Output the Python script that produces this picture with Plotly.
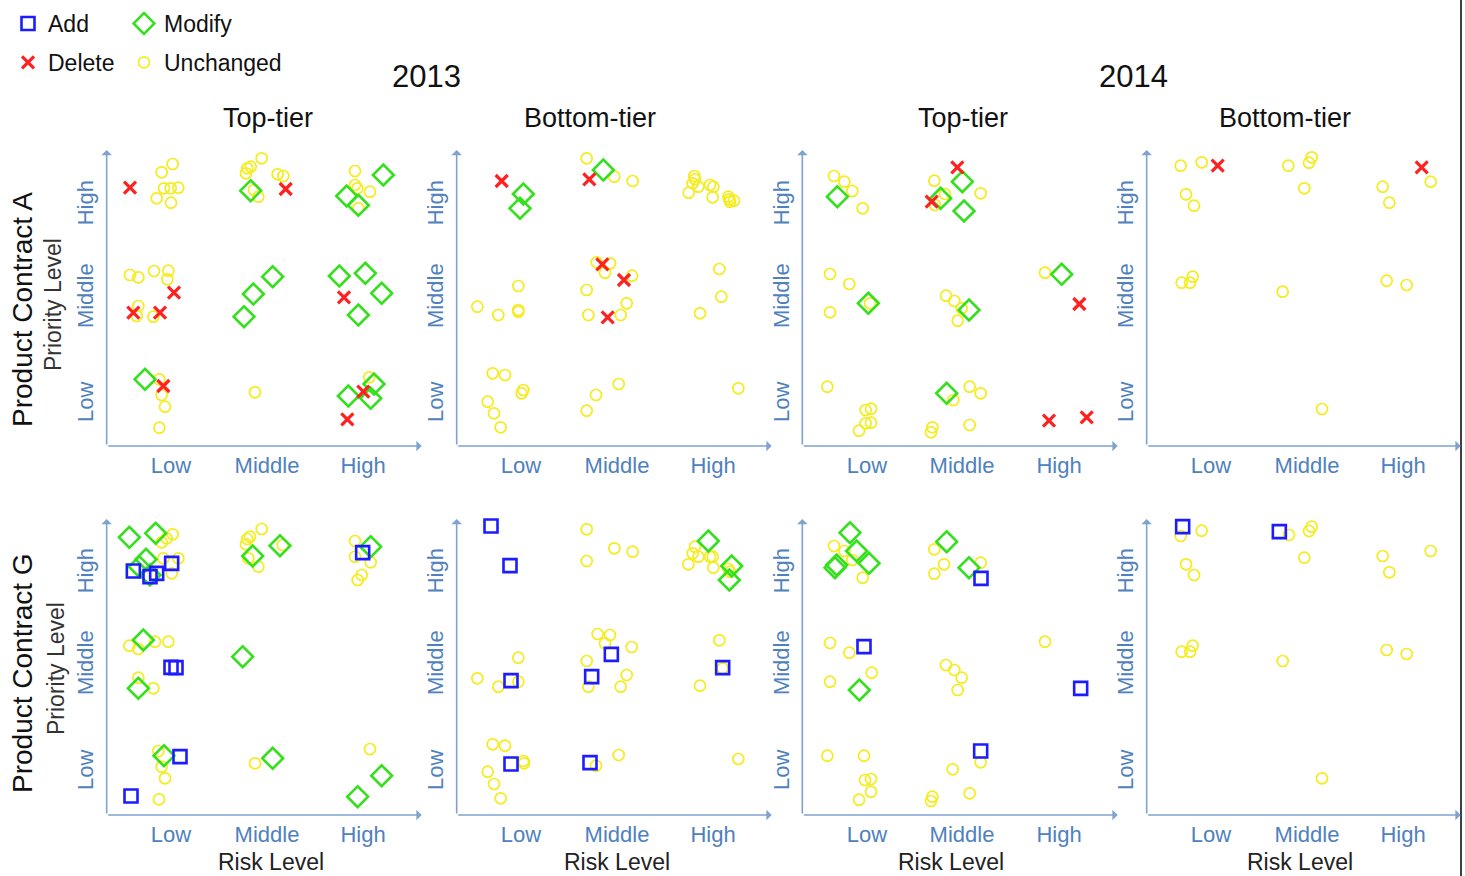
import plotly.graph_objects as go

W, H = 1465, 876

# ---------------- categories / labels ----------------
years = ["2013", "2014"]
tiers = ["Top-tier", "Bottom-tier"]
contracts = ["Product Contract A", "Product Contract G"]
level_labels = ["Low", "Middle", "High"]
change_types = ["Add", "Modify", "Delete", "Unchanged"]

# tick positions on the (risk score, priority score) scales
risk_ticks = [213, 501, 789]
risk_ticks_c3 = [216, 501, 792]
prio_ticks_A = [205, 523, 802]
prio_ticks_G = [196, 517, 793]

# ---------------- data: (risk score, priority score) ----------------
# Product Contract A, 2013, Top-tier
A13T_add = []
A13T_modify = [(452, 848), (850, 895), (740, 832), (775, 804), (518, 590), (460, 538), (432, 470),
               (718, 592), (796, 600), (845, 540), (775, 475), (135, 282), (745, 232), (812, 225), (822, 268)]
A13T_delete = [(90, 857), (557, 853), (222, 542), (100, 482), (180, 482), (190, 262), (732, 528),
               (790, 245), (742, 162)]
A13T_unch = [(218, 928), (185, 903), (192, 855), (212, 855), (235, 857), (170, 825), (213, 812),
             (485, 945), (442, 915), (452, 920), (438, 900), (533, 897), (550, 892), (475, 830), (462, 850),
             (765, 907), (765, 865), (772, 855), (810, 845), (775, 795),
             (90, 595), (115, 588), (162, 607), (205, 608), (202, 582), (115, 502), (110, 472), (160, 470),
             (178, 282), (185, 235), (195, 200), (178, 137), (465, 243), (808, 288)]

# Product Contract A, 2013, Bottom-tier
A13B_add = []
A13B_modify = [(220, 838), (210, 795), (460, 910)]
A13B_delete = [(155, 877), (418, 882), (457, 627), (522, 580), (473, 468)]
A13B_unch = [(410, 945), (493, 890), (548, 877),
             (733, 892), (735, 882), (728, 870), (745, 860), (716, 842), (780, 865), (790, 860), (788, 828),
             (835, 830), (840, 815), (852, 818), (838, 822),
             (205, 562), (82, 500), (145, 475), (205, 490), (205, 485),
             (440, 633), (480, 630), (465, 602), (546, 593), (410, 550), (530, 510), (415, 475), (512, 475),
             (808, 613), (814, 530), (750, 480),
             (128, 300), (165, 295), (220, 250), (215, 240), (113, 215), (132, 180), (152, 138),
             (506, 268), (438, 235), (410, 188), (865, 255)]

# Product Contract A, 2014, Top-tier
A14T_add = []
A14T_modify = [(127, 830), (437, 825), (502, 875), (507, 787), (220, 510), (522, 490), (800, 597), (455, 240)]
A14T_delete = [(487, 918), (410, 815), (853, 508), (762, 158), (875, 168)]
A14T_unch = [(117, 892), (148, 875), (172, 847), (203, 795), (418, 878), (450, 838), (420, 805), (557, 840),
             (105, 598), (163, 568), (105, 483), (225, 510),
             (453, 533), (478, 517), (500, 495), (488, 458), (750, 602),
             (97, 260), (212, 190), (228, 194), (212, 150), (228, 152), (192, 128),
             (475, 220), (524, 260), (557, 240), (412, 138), (408, 123), (524, 145)]

# Product Contract A, 2014, Bottom-tier
A14B_add = []
A14B_modify = []
A14B_delete = [(233, 923), (845, 918)]
A14B_unch = [(122, 923), (185, 933), (138, 837), (162, 803), (445, 923), (507, 932), (515, 948), (493, 855),
             (728, 860), (748, 812), (872, 875), (125, 572), (150, 572), (158, 590), (428, 545), (740, 578),
             (800, 565), (546, 193)]

# Product Contract G, 2013, Top-tier
G13T_add = [(100, 802), (150, 785), (170, 795), (215, 825), (788, 857), (213, 513), (228, 512), (240, 245), (93, 127)]
G13T_modify = [(88, 903), (167, 915), (118, 815), (138, 837), (150, 790), (130, 595), (115, 450), (192, 248),
               (458, 847), (540, 878), (428, 545), (518, 240), (812, 875), (845, 188), (773, 125)]
G13T_delete = []
G13T_unch = [(185, 888), (200, 900), (218, 912), (190, 840), (235, 840), (215, 795),
             (485, 928), (450, 905), (442, 898), (438, 882), (445, 840), (475, 815), (548, 880),
             (765, 892), (765, 845), (812, 828), (785, 790), (773, 775),
             (88, 578), (115, 568), (165, 590), (205, 590), (115, 482), (160, 450),
             (175, 262), (185, 215), (195, 180), (177, 117), (465, 225), (810, 268)]

# Product Contract G, 2013, Bottom-tier
G13B_add = [(123, 937), (180, 818), (183, 473), (425, 485), (484, 552), (818, 512), (183, 223), (420, 227)]
G13B_modify = [(775, 892), (845, 817), (838, 775)]
G13B_delete = []
G13B_unch = [(410, 927), (410, 832), (493, 870), (548, 860),
             (735, 875), (728, 855), (745, 845), (715, 822), (780, 845), (788, 845), (790, 812), (840, 800), (835, 808),
             (205, 542), (82, 480), (145, 455), (205, 470),
             (443, 613), (480, 610), (465, 585), (545, 574), (410, 532), (530, 490), (415, 455), (512, 455),
             (808, 594), (818, 510), (750, 458),
             (128, 282), (165, 278), (220, 232), (222, 225), (113, 200), (132, 163), (152, 120),
             (506, 250), (438, 218), (865, 238)]

# Product Contract G, 2014, Top-tier
G14T_add = [(558, 780), (207, 575), (857, 450), (557, 262)]
G14T_modify = [(165, 917), (185, 862), (222, 825), (120, 812), (125, 820), (193, 445), (455, 890), (522, 812)]
G14T_delete = []
G14T_unch = [(117, 877), (148, 862), (172, 835), (203, 782), (418, 867), (447, 822), (418, 794), (557, 827),
             (105, 586), (163, 557), (105, 470), (230, 497),
             (453, 520), (478, 505), (500, 482), (488, 445), (750, 590),
             (97, 248), (207, 248), (210, 175), (228, 178), (228, 140), (192, 116),
             (557, 228), (473, 207), (524, 135), (412, 125), (408, 112)]

# Product Contract G, 2014, Bottom-tier
G14B_add = [(128, 935), (418, 920)]
G14B_modify = []
G14B_delete = []
G14B_unch = [(122, 907), (185, 923), (138, 822), (162, 790), (447, 910), (507, 922), (515, 935), (493, 842),
             (728, 847), (748, 798), (872, 862), (125, 560), (150, 560), (158, 578), (428, 532), (740, 565),
             (800, 553), (546, 180)]

panels = [
    [dict(Add=A13T_add, Modify=A13T_modify, Delete=A13T_delete, Unchanged=A13T_unch),
     dict(Add=A13B_add, Modify=A13B_modify, Delete=A13B_delete, Unchanged=A13B_unch),
     dict(Add=A14T_add, Modify=A14T_modify, Delete=A14T_delete, Unchanged=A14T_unch),
     dict(Add=A14B_add, Modify=A14B_modify, Delete=A14B_delete, Unchanged=A14B_unch)],
    [dict(Add=G13T_add, Modify=G13T_modify, Delete=G13T_delete, Unchanged=G13T_unch),
     dict(Add=G13B_add, Modify=G13B_modify, Delete=G13B_delete, Unchanged=G13B_unch),
     dict(Add=G14T_add, Modify=G14T_modify, Delete=G14T_delete, Unchanged=G14T_unch),
     dict(Add=G14B_add, Modify=G14B_modify, Delete=G14B_delete, Unchanged=G14B_unch)],
]

# ---------------- styling / layout geometry ----------------
FONT = "Liberation Sans, Arial, sans-serif"
TICK_COLOR = "#4f81bd"
AXIS_COLOR = "#7fa3d0"

styles = {
    "Unchanged": dict(symbol="circle-open", size=11, color="#f5ec1c", lw=1.7, legend="legend2", rank=2),
    "Modify": dict(symbol="diamond-open", size=16, color="#33e01c", lw=2.6, legend="legend2", rank=1),
    "Add": dict(symbol="square-open", size=13, color="#1c1cff", lw=2.6, legend="legend", rank=1),
    "Delete": dict(symbol="x-thin-open", size=12, color="#ff2020", lw=3.2, legend="legend", rank=2),
}
draw_order = ["Unchanged", "Modify", "Add", "Delete"]

# pixel boxes of each panel: (left px, right px, x range lo, x range hi)
col_geom = [(106.67, 421.67, 20, 965), (456.67, 771.67, 20, 965),
            (802.33, 1117.67, 22, 968), (1146.67, 1460.67, 20, 962)]
# (top px, bottom px, y at bottom, y at top)
row_geom = [(150, 446, 82, 970), (519, 815, 70, 958)]

fig = go.Figure()
layout = {}
annotations = []

for r in range(2):
    for c in range(4):
        n = r * 4 + c + 1
        xa = "x" if n == 1 else f"x{n}"
        ya = "y" if n == 1 else f"y{n}"
        left, right, x0, x1 = col_geom[c]
        top, bottom, y0, y1 = row_geom[r]
        data = panels[r][c]
        for ct in draw_order:
            pts = data[ct]
            st = styles[ct]
            first = (n == 1)
            fig.add_trace(go.Scatter(
                x=[p[0] for p in pts] if pts else [None],
                y=[p[1] for p in pts] if pts else [None],
                mode="markers", name=ct, legendgroup=ct, showlegend=first,
                legend=st["legend"], legendrank=st["rank"],
                marker=dict(symbol=st["symbol"], size=st["size"], color=st["color"],
                            line=dict(color=st["color"], width=st["lw"])),
                xaxis=xa, yaxis=ya, cliponaxis=False, hoverinfo="skip"))
        layout[f"xaxis{n}"] = dict(
            domain=[left / W, right / W], range=[x0, x1], anchor=ya,
            showgrid=False, zeroline=False, showline=False, ticks="",
            tickmode="array", tickvals=risk_ticks_c3 if c == 2 else risk_ticks, ticktext=level_labels,
            tickfont=dict(size=22, color=TICK_COLOR, family=FONT), ticklabelstandoff=4)
        layout[f"yaxis{n}"] = dict(
            domain=[1 - bottom / H, 1 - top / H], range=[y0, y1], anchor=xa,
            showgrid=False, zeroline=False, showline=False, ticks="",
            tickmode="array", tickvals=prio_ticks_A if r == 0 else prio_ticks_G, ticktext=level_labels,
            tickangle=-90, tickfont=dict(size=22, color=TICK_COLOR, family=FONT), ticklabelstandoff=8)
        # axis arrows
        for (hx, hy) in [(x1, y0), (x0, y1)]:
            annotations.append(dict(
                xref=xa, yref=ya, axref=xa, ayref=ya, x=hx, y=hy, ax=x0, ay=y0,
                text="", showarrow=True, arrowhead=1, arrowsize=1.1, arrowwidth=1.6,
                arrowcolor=AXIS_COLOR, standoff=0, startstandoff=0))


def ann(text, px, py, size, color="#111111", angle=0):
    annotations.append(dict(text=text, x=px / W, y=1 - py / H, xref="paper", yref="paper",
                            showarrow=False, textangle=angle, xanchor="center", yanchor="middle",
                            font=dict(size=size, color=color, family=FONT)))


# year headers
ann(years[0], 427, 77, 31)
ann(years[1], 1133, 77, 31)
# tier headers
for tx, t in zip([268, 590, 963, 1285], tiers * 2):
    ann(t, tx, 118, 27)
# row headers
ann(contracts[0], 22, 310, 28, angle=-90)
ann(contracts[1], 22, 673, 28, angle=-90)
ann("Priority Level", 53, 305, 23, color="#333333", angle=-90)
ann("Priority Level", 56, 668, 23, color="#333333", angle=-90)
for rx in [271, 617, 951, 1300]:
    ann("Risk Level", rx, 862, 23, color="#222222")

legend_common = dict(xanchor="left", yanchor="top", traceorder="grouped", tracegroupgap=6,
                     font=dict(size=23, color="#111111", family=FONT), bgcolor="rgba(0,0,0,0)",
                     itemwidth=30, orientation="v")

fig.update_layout(
    width=W, height=H, margin=dict(l=0, r=0, t=0, b=0),
    paper_bgcolor="white", plot_bgcolor="white",
    font=dict(family=FONT),
    showlegend=True,
    legend=dict(x=8 / W, y=1 - 2 / H, **legend_common),
    legend2=dict(x=124 / W, y=1 - 2 / H, **legend_common),
    annotations=annotations,
    shapes=[dict(type="line", xref="paper", yref="paper", x0=1461 / W, x1=1461 / W, y0=0, y1=1,
                 line=dict(color="black", width=1.5))],
    **layout)

fig.write_html("out.html", config={"displayModeBar": False},
               post_script="document.body.style.margin='0';document.body.style.overflow='hidden';")
